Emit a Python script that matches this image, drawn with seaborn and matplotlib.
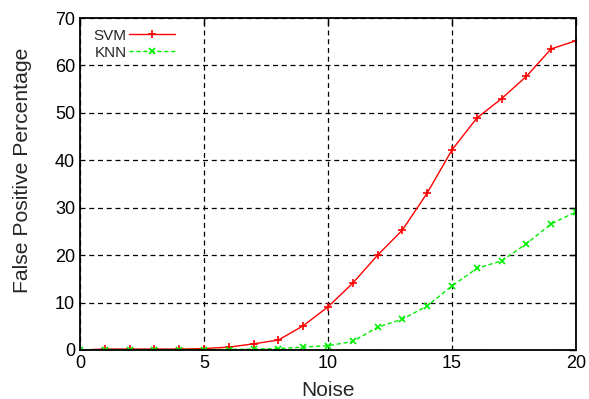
import matplotlib
matplotlib.use("Agg")
import matplotlib.pyplot as plt
import seaborn as sns
import pandas as pd
from matplotlib.lines import Line2D

noise = list(range(21))
svm = [0.0, 0.2, 0.2, 0.2, 0.2, 0.3, 0.6, 1.3, 2.1, 5.1, 9.1, 14.1, 20.0, 25.3, 33.1, 42.2, 48.9, 53.0, 57.7, 63.5, 65.2]
knn = [0.0, 0.1, 0.1, 0.1, 0.1, 0.1, 0.1, 0.2, 0.3, 0.6, 0.9, 1.8, 4.8, 6.5, 9.3, 13.5, 17.2, 18.8, 22.4, 26.6, 29.1]
series_names = ["SVM", "KNN"]
x_label = "Noise"
y_label = "False Positive Percentage"

df_svm = pd.DataFrame({"Noise": noise, "value": svm})
df_knn = pd.DataFrame({"Noise": noise, "value": knn})

sns.set_style("white")
plt.rcParams["font.family"] = ["Liberation Sans", "DejaVu Sans"]

fig = plt.figure(figsize=(5.89, 3.99), dpi=100)
ax = fig.add_axes([80/589, 49/399, 496/589, 332/399])
ax.set_axisbelow(True)

red = "#ff0000"
green = "#00ee00"
sns.lineplot(data=df_svm, x="Noise", y="value", color=red, linestyle="-",
             marker="+", markersize=6, markeredgewidth=1.2, markeredgecolor=red,
             linewidth=1.0, ax=ax)
sns.lineplot(data=df_knn, x="Noise", y="value", color=green, linestyle=(0, (3, 2)),
             marker="x", markersize=4.5, markeredgewidth=1.2, markeredgecolor=green,
             linewidth=1.0, ax=ax)

ax.set_xlim(0, 20)
ax.set_ylim(0, 70)
ax.set_xticks([0, 5, 10, 15, 20])
ax.set_yticks(range(0, 71, 10))
ax.grid(True, color="black", linestyle=(0, (4, 3)), linewidth=0.9)
ax.tick_params(direction="in", length=5, top=True, right=True, labelsize=13, width=1, colors="black")
for s in ax.spines.values():
    s.set_color("black")
    s.set_linewidth(1.3)
ax.set_xlabel(x_label, fontsize=15)
ax.set_ylabel(y_label, fontsize=15.2)
ax.xaxis.set_label_coords(0.5, -0.092)
ax.yaxis.set_label_coords(-0.097, 0.542)

handles = [Line2D([], [], color=red, marker="+", markersize=6, markeredgewidth=1.2, linewidth=1.0),
           Line2D([], [], color=green, marker="x", markersize=4.5, markeredgewidth=1.2, linewidth=1.0, linestyle=(0, (3, 2)))]
leg = ax.legend(handles, series_names, loc="upper left", frameon=False, markerfirst=False,
                fontsize=11, handlelength=3.0, handletextpad=0.15, labelspacing=0.2,
                bbox_to_anchor=(0.006, 1.0), numpoints=1, borderaxespad=0.3)

fig.savefig("out.png", dpi=100)
